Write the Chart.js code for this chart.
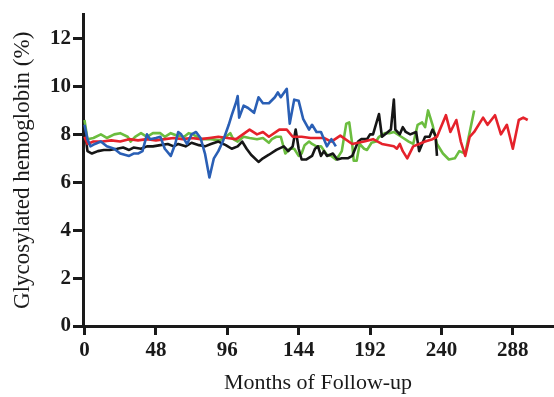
<!DOCTYPE html>
<html>
<head>
<meta charset="utf-8">
<script src="https://cdn.jsdelivr.net/npm/chart.js@4"></script>
<style>
  body { margin: 0; background: #fff; }
  #wrap { width: 554px; height: 397px; }
</style>
</head>
<body>
<div id="wrap"><canvas id="hba1c" width="554" height="397"></canvas></div>
<script>
// tick labels
var xTicks = [0, 48, 96, 144, 192, 240, 288];
var yTicks = [0, 2, 4, 6, 8, 10, 12];

// blue series
var blueMonths = [0, 2, 4, 7, 11, 15, 20, 24, 30, 33, 36, 39, 42, 44, 48, 51, 54, 58, 61, 63, 65, 69, 72, 75, 78, 81, 84, 87, 90, 93, 97, 99, 102, 103, 104, 107, 110, 114, 117, 120, 124, 128, 130, 132, 136, 138, 141, 144, 147, 151, 153, 156, 159, 161, 163, 166, 169];
var blueValues = [8.4, 7.8, 7.5, 7.6, 7.7, 7.5, 7.4, 7.2, 7.1, 7.2, 7.2, 7.3, 8.0, 7.8, 7.85, 7.9, 7.4, 7.1, 7.6, 8.1, 8.0, 7.6, 8.0, 8.1, 7.85, 7.2, 6.2, 7.0, 7.3, 7.7, 8.4, 8.8, 9.35, 9.6, 8.7, 9.2, 9.1, 8.9, 9.55, 9.3, 9.3, 9.55, 9.75, 9.55, 9.9, 8.45, 9.45, 9.4, 8.65, 8.2, 8.4, 8.1, 8.1, 7.8, 7.5, 7.8, 7.5];

// red series
var redMonths = [0, 2, 6, 12, 18, 24, 30, 36, 42, 48, 54, 60, 66, 72, 78, 84, 90, 96, 102, 111, 116, 120, 124, 131, 136, 140, 146, 152, 156, 161, 166, 172, 180, 188, 194, 200, 208, 210, 212, 214, 217, 221, 225, 229, 234, 237, 239, 243, 246, 250, 253, 256, 259, 262, 268, 271, 276, 280, 284, 288, 292, 295, 298];
var redValues = [7.9, 7.6, 7.7, 7.7, 7.75, 7.7, 7.8, 7.75, 7.8, 7.75, 7.8, 7.85, 7.8, 7.85, 7.8, 7.85, 7.9, 7.85, 7.8, 8.2, 8.0, 8.1, 7.9, 8.2, 8.2, 7.9, 7.9, 7.85, 7.85, 7.85, 7.7, 7.95, 7.6, 7.7, 7.8, 7.6, 7.5, 7.4, 7.6, 7.3, 7.0, 7.5, 7.6, 7.7, 7.8, 7.9, 8.2, 8.8, 8.1, 8.6, 7.7, 7.1, 7.9, 8.1, 8.7, 8.4, 8.8, 8.0, 8.4, 7.4, 8.6, 8.7, 8.6];

// green series
var greenMonths = [0, 2, 6, 11, 15, 20, 24, 29, 31, 34, 38, 42, 46, 51, 54, 58, 62, 67, 70, 73, 78, 81, 85, 91, 95, 98, 100, 103, 107, 111, 116, 120, 124, 126, 129, 132, 135, 138, 141, 144, 146, 148, 151, 153, 156, 159, 163, 166, 169, 171, 173, 176, 178, 180, 181, 183, 185, 188, 190, 193, 196, 198, 202, 205, 208, 213, 218, 221, 224, 227, 229, 231, 234, 237, 241, 245, 249, 252, 256, 258, 262];
var greenValues = [8.6, 7.8, 7.85, 8.0, 7.85, 8.0, 8.05, 7.9, 7.7, 7.9, 8.05, 7.9, 8.05, 8.05, 7.9, 8.05, 7.95, 7.9, 8.05, 8.0, 7.8, 7.8, 7.8, 7.75, 7.9, 8.05, 7.8, 7.7, 7.9, 7.85, 7.8, 7.85, 7.65, 7.8, 7.9, 7.9, 7.2, 7.4, 7.4, 7.1, 7.2, 7.55, 7.7, 7.6, 7.5, 7.5, 7.15, 7.1, 6.95, 7.1, 7.3, 8.45, 8.5, 7.6, 6.9, 6.9, 7.6, 7.4, 7.35, 7.65, 7.7, 7.9, 8.05, 8.05, 8.1, 7.9, 7.7, 7.6, 8.4, 8.5, 8.3, 9.0, 8.4, 7.6, 7.2, 6.95, 7.0, 7.3, 7.2, 7.8, 9.0];

// black series
var blackMonths = [0, 2, 5, 9, 13, 17, 22, 26, 30, 33, 38, 42, 46, 51, 56, 60, 63, 68, 72, 77, 81, 85, 90, 95, 99, 103, 106, 109, 112, 117, 120, 124, 129, 134, 137, 140, 142, 144, 146, 149, 153, 155, 157, 159, 161, 163, 167, 170, 173, 177, 180, 184, 186, 190, 192, 194, 198, 200, 203, 206, 208, 209, 212, 214, 216, 219, 223, 225, 229, 232, 234, 236, 237];
var blackValues = [8.3, 7.3, 7.2, 7.3, 7.35, 7.35, 7.4, 7.45, 7.35, 7.45, 7.4, 7.5, 7.5, 7.55, 7.6, 7.5, 7.6, 7.5, 7.65, 7.55, 7.5, 7.6, 7.7, 7.55, 7.4, 7.5, 7.7, 7.4, 7.15, 6.85, 7.0, 7.15, 7.35, 7.5, 7.3, 7.5, 8.2, 7.4, 6.95, 6.95, 7.1, 7.4, 7.5, 7.1, 7.3, 7.1, 7.2, 6.95, 7.0, 7.0, 7.1, 7.7, 7.8, 7.8, 8.0, 8.0, 8.85, 7.9, 8.05, 8.2, 9.45, 8.2, 8.0, 8.3, 8.1, 8.0, 8.1, 7.3, 7.9, 7.9, 8.2, 7.95, 7.1];

function pts(months, values) {
    return months.map(function(m, i) { return { x: m, y: values[i] }; });
}

var serif = "'Liberation Serif', 'DejaVu Serif', serif";
var ink = '#1a1a1a';

var ctx = document.getElementById('hba1c');
var chart = new Chart(ctx, {
    type: 'line',
    data: {
        datasets: [
            { label: 'blue', data: pts(blueMonths, blueValues), borderColor: '#2a5fb5', order: 1 },
            { label: 'red', data: pts(redMonths, redValues), borderColor: '#e5222b', order: 2 },
            { label: 'black', data: pts(blackMonths, blackValues), borderColor: '#161616', order: 3 },
            { label: 'green', data: pts(greenMonths, greenValues), borderColor: '#6bbd3f', order: 4 }
        ]
    },
    options: {
        responsive: false,
        animation: false,
        layout: { padding: { left: 0, top: 12, right: 1, bottom: 0 } },
        elements: {
            point: { radius: 0 },
            line: { borderWidth: 2.6, tension: 0, fill: false, borderJoinStyle: 'round' }
        },
        plugins: { legend: { display: false }, tooltip: { enabled: false } },
        scales: {
            x: {
                type: 'linear',
                min: -1,
                max: 315,
                afterFit: function(scale) { scale.height = 71; },
                afterBuildTicks: function(scale) {
                    scale.ticks = xTicks.map(function(v) { return { value: v }; });
                },
                border: { display: true, width: 3, color: ink },
                grid: { drawOnChartArea: false, drawTicks: true, tickLength: 9, tickWidth: 3, tickColor: ink },
                ticks: {
                    color: ink,
                    padding: 3,
                    maxRotation: 0,
                    autoSkip: false,
                    font: { family: serif, size: 21, weight: 'bold' }
                },
                title: {
                    display: true,
                    text: 'Months of Follow-up',
                    color: ink,
                    padding: { top: 0, bottom: 1 },
                    font: { family: serif, size: 22 }
                }
            },
            y: {
                min: 0,
                max: 13,
                afterFit: function(scale) { scale.width = 83; },
                afterBuildTicks: function(scale) {
                    scale.ticks = yTicks.map(function(v) { return { value: v }; });
                },
                border: { display: true, width: 3, color: ink },
                grid: { drawOnChartArea: false, drawTicks: true, tickLength: 10, tickWidth: 3, tickColor: ink },
                ticks: {
                    color: ink,
                    padding: 2,
                    autoSkip: false,
                    font: { family: serif, size: 21, weight: 'bold' }
                },
                title: {
                    display: true,
                    text: 'Glycosylated hemoglobin (%)',
                    color: ink,
                    padding: { top: 9, bottom: 0 },
                    font: { family: serif, size: 23 }
                }
            }
        }
    }
});
</script>
</body>
</html>
